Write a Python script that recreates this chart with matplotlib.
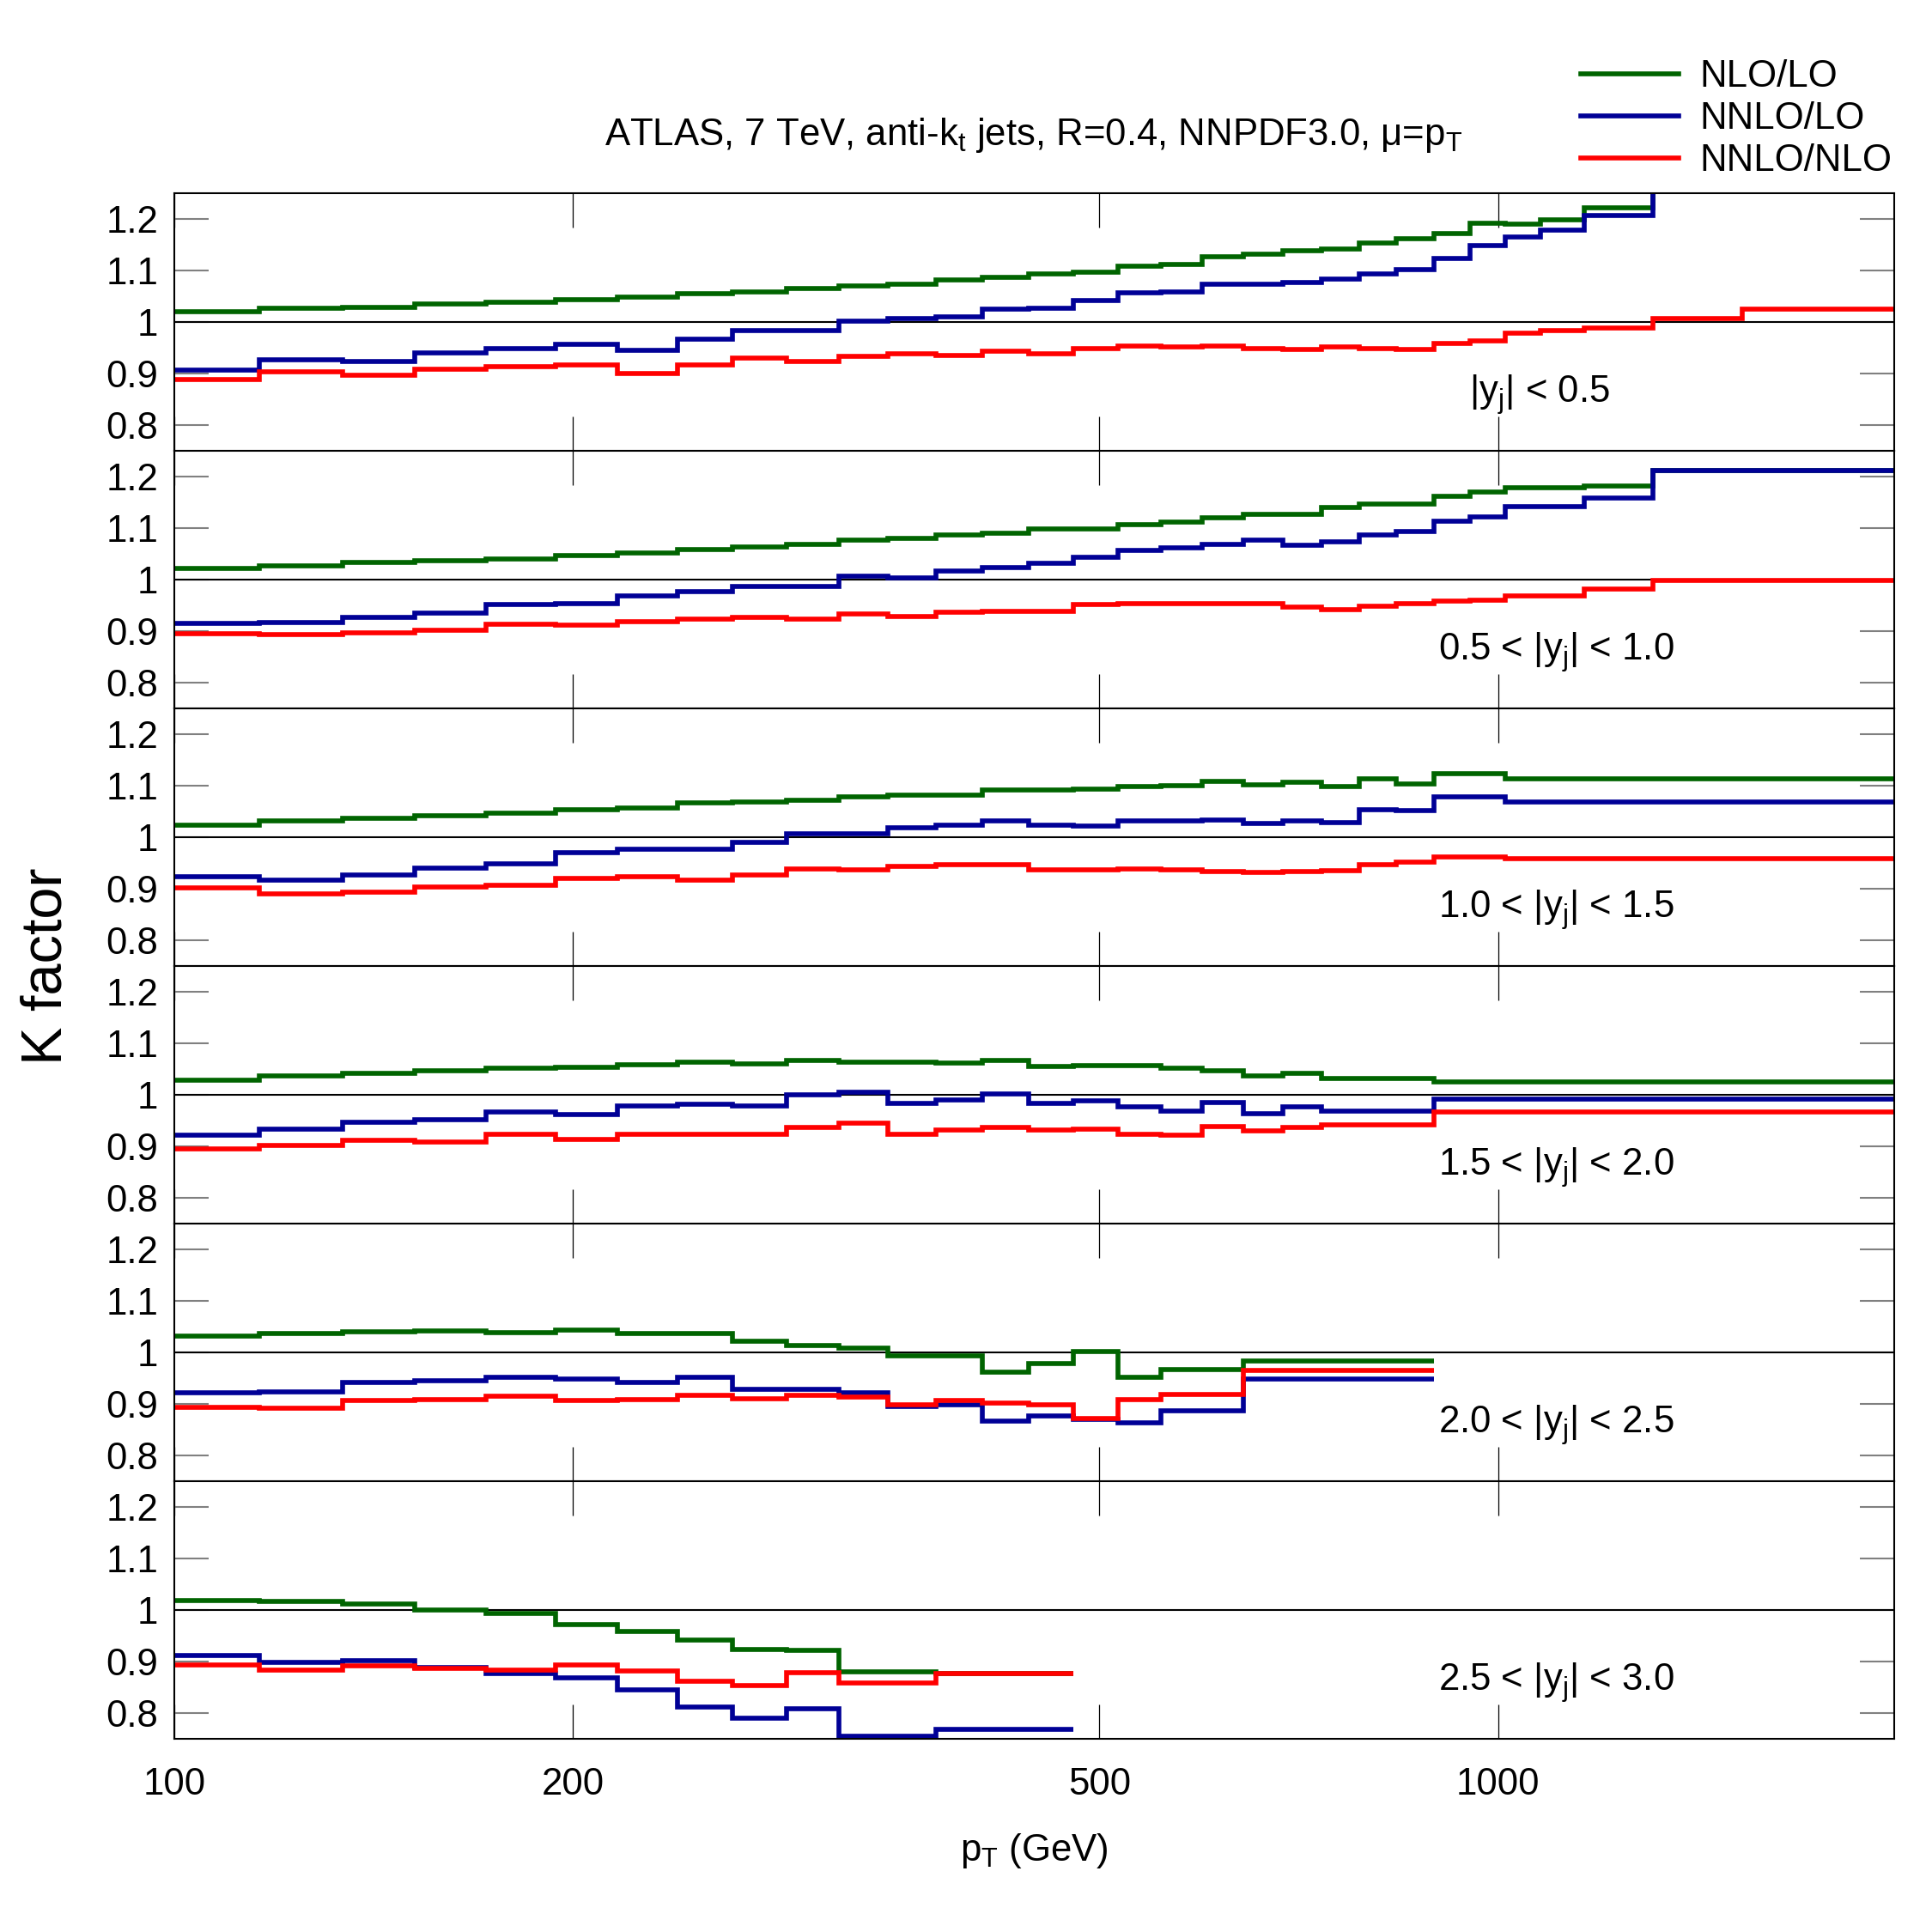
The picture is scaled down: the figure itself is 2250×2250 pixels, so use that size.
import matplotlib
matplotlib.use("Agg")
import matplotlib.pyplot as plt
from matplotlib.ticker import FixedLocator, NullLocator, FixedFormatter
from matplotlib.lines import Line2D

plt.rcParams['font.family'] = ['Liberation Sans', 'DejaVu Sans']
plt.rcParams['mathtext.fontset'] = 'custom'
plt.rcParams['mathtext.rm'] = 'Liberation Sans'
plt.rcParams['mathtext.it'] = 'Liberation Sans'

# pT bin edges (GeV)
edges = [100, 116, 134, 152, 172, 194, 216, 240, 264, 290, 318, 346, 376, 408,
         442, 478, 516, 556, 598, 642, 688, 736, 786, 838, 894, 952, 1012, 1076,
         1162, 1310, 1530, 1992]

labels = ['$|$y$_{\\rm j}|$ < 0.5', '0.5 < $|$y$_{\\rm j}|$ < 1.0',
          '1.0 < $|$y$_{\\rm j}|$ < 1.5', '1.5 < $|$y$_{\\rm j}|$ < 2.0',
          '2.0 < $|$y$_{\\rm j}|$ < 2.5', '2.5 < $|$y$_{\\rm j}|$ < 3.0']

# |y| < 0.5
nlo_lo_1 = [1.020, 1.027, 1.029, 1.035, 1.039, 1.043, 1.049, 1.055, 1.058, 1.065,
            1.070, 1.073, 1.081, 1.087, 1.094, 1.097, 1.108, 1.112, 1.126, 1.131,
            1.138, 1.141, 1.153, 1.162, 1.172, 1.191, 1.190, 1.199, 1.222, 1.30, 1.30]
nnlo_lo_1 = [0.906, 0.927, 0.924, 0.940, 0.948, 0.957, 0.945, 0.966, 0.983, 0.984,
             1.001, 1.007, 1.010, 1.025, 1.026, 1.041, 1.056, 1.058, 1.073, 1.074,
             1.076, 1.083, 1.093, 1.101, 1.123, 1.148, 1.165, 1.178, 1.207, 1.30, 1.30]
nnlo_nlo_1 = [0.888, 0.903, 0.897, 0.908, 0.913, 0.917, 0.900, 0.916, 0.930, 0.924,
              0.934, 0.938, 0.935, 0.943, 0.938, 0.949, 0.954, 0.952, 0.953, 0.948,
              0.946, 0.951, 0.949, 0.947, 0.959, 0.964, 0.979, 0.983, 0.988, 1.007, 1.025]

# 0.5 < |y| < 1.0
nlo_lo_2 = [1.022, 1.026, 1.033, 1.036, 1.040, 1.047, 1.052, 1.058, 1.064, 1.068,
            1.076, 1.080, 1.086, 1.090, 1.099, 1.098, 1.106, 1.112, 1.120, 1.126,
            1.126, 1.140, 1.147, 1.147, 1.162, 1.170, 1.178, 1.178, 1.182, 1.212, 1.212]
nnlo_lo_2 = [0.915, 0.917, 0.926, 0.935, 0.951, 0.954, 0.968, 0.977, 0.987, 0.987,
             1.006, 1.003, 1.016, 1.023, 1.032, 1.044, 1.056, 1.062, 1.068, 1.076,
             1.066, 1.074, 1.087, 1.094, 1.113, 1.122, 1.142, 1.142, 1.158, 1.212, 1.212]
nnlo_nlo_2 = [0.895, 0.893, 0.897, 0.902, 0.914, 0.911, 0.919, 0.924, 0.927, 0.924,
              0.934, 0.928, 0.937, 0.939, 0.939, 0.951, 0.954, 0.954, 0.953, 0.954,
              0.947, 0.942, 0.948, 0.954, 0.958, 0.960, 0.969, 0.969, 0.981, 0.999, 0.999]

# 1.0 < |y| < 1.5
nlo_lo_3 = [1.024, 1.031, 1.036, 1.042, 1.047, 1.054, 1.056, 1.066, 1.068, 1.072,
            1.078, 1.082, 1.082, 1.091, 1.092, 1.093, 1.098, 1.100, 1.108, 1.102,
            1.106, 1.099, 1.113, 1.103, 1.123, 1.123, 1.114, 1.114, 1.114, 1.114, 1.114]
nnlo_lo_3 = [0.924, 0.917, 0.926, 0.940, 0.948, 0.970, 0.976, 0.977, 0.990, 1.006,
             1.007, 1.019, 1.023, 1.032, 1.023, 1.022, 1.032, 1.032, 1.034, 1.027,
             1.032, 1.028, 1.053, 1.051, 1.079, 1.079, 1.068, 1.068, 1.068, 1.068, 1.068]
nnlo_nlo_3 = [0.902, 0.890, 0.893, 0.903, 0.906, 0.920, 0.923, 0.917, 0.927, 0.939,
              0.937, 0.943, 0.946, 0.946, 0.937, 0.937, 0.939, 0.937, 0.933, 0.932,
              0.933, 0.935, 0.946, 0.952, 0.962, 0.962, 0.958, 0.958, 0.958, 0.958, 0.958]

# 1.5 < |y| < 2.0
nlo_lo_4 = [1.028, 1.036, 1.041, 1.047, 1.051, 1.054, 1.058, 1.063, 1.060, 1.067,
            1.064, 1.064, 1.062, 1.067, 1.055, 1.057, 1.056, 1.051, 1.046, 1.037,
            1.041, 1.031, 1.031, 1.031, 1.025, 1.025, 1.025, 1.025, 1.025, 1.025, 1.025]
nnlo_lo_4 = [0.921, 0.933, 0.947, 0.951, 0.966, 0.962, 0.978, 0.982, 0.978, 1.000,
             1.005, 0.984, 0.990, 1.001, 0.983, 0.988, 0.977, 0.968, 0.985, 0.963,
             0.976, 0.969, 0.969, 0.969, 0.991, 0.991, 0.991, 0.991, 0.991, 0.991, 0.991]
nnlo_nlo_4 = [0.895, 0.901, 0.911, 0.908, 0.923, 0.913, 0.923, 0.924, 0.923, 0.937,
              0.945, 0.923, 0.932, 0.937, 0.932, 0.933, 0.924, 0.922, 0.938, 0.930,
              0.937, 0.941, 0.941, 0.941, 0.966, 0.966, 0.966, 0.966, 0.966, 0.966, 0.966]

# 2.0 < |y| < 2.5 (up to 894 GeV)
nlo_lo_5 = [1.032, 1.037, 1.040, 1.041, 1.039, 1.044, 1.037, 1.037, 1.022, 1.014,
            1.008, 0.994, 0.993, 0.962, 0.979, 1.001, 0.951, 0.966, 0.966, 0.983,
            0.983, 0.983, 0.983, 0.983]
nnlo_lo_5 = [0.922, 0.924, 0.942, 0.945, 0.952, 0.948, 0.942, 0.951, 0.929, 0.929,
             0.922, 0.895, 0.898, 0.867, 0.877, 0.870, 0.863, 0.887, 0.887, 0.948,
             0.948, 0.948, 0.948, 0.948]
nnlo_nlo_5 = [0.893, 0.892, 0.906, 0.908, 0.915, 0.907, 0.908, 0.917, 0.910, 0.916,
              0.914, 0.899, 0.906, 0.902, 0.898, 0.872, 0.908, 0.919, 0.919, 0.965,
              0.965, 0.965, 0.965, 0.965]

# 2.5 < |y| < 3.0 (up to 478 GeV)
nlo_lo_6 = [1.019, 1.017, 1.012, 1.000, 0.993, 0.972, 0.958, 0.941, 0.924, 0.921,
            0.880, 0.880, 0.876, 0.876, 0.876]
nnlo_lo_6 = [0.911, 0.898, 0.902, 0.888, 0.877, 0.869, 0.845, 0.811, 0.790, 0.808,
             0.755, 0.755, 0.768, 0.768, 0.768]
nnlo_nlo_6 = [0.893, 0.883, 0.891, 0.887, 0.884, 0.894, 0.881, 0.861, 0.853, 0.878,
              0.858, 0.858, 0.877, 0.877, 0.877]

panels = [
    (nlo_lo_1, nnlo_lo_1, nnlo_nlo_1),
    (nlo_lo_2, nnlo_lo_2, nnlo_nlo_2),
    (nlo_lo_3, nnlo_lo_3, nnlo_nlo_3),
    (nlo_lo_4, nnlo_lo_4, nnlo_nlo_4),
    (nlo_lo_5, nnlo_lo_5, nnlo_nlo_5),
    (nlo_lo_6, nnlo_lo_6, nnlo_nlo_6),
]
colors = ['#006400', '#000096', '#ff0000']
names = ['NLO/LO', 'NNLO/LO', 'NNLO/NLO']
label_x = [0.7527, 0.7348, 0.7348, 0.7348, 0.7348, 0.7348]

fig = plt.figure(figsize=(15, 15), dpi=150)
fig.subplots_adjust(left=0.0902, right=0.9804, bottom=0.1, top=0.9, hspace=0)
axes = fig.subplots(6, 1, sharex=True)

for i, ax in enumerate(axes):
    ax.axhline(1.0, color='black', lw=1.0, zorder=3)
    for vals, c in zip(panels[i], colors):
        ax.stairs(vals, edges[:len(vals) + 1], baseline=None, color=c, lw=2.7, zorder=4)
    ax.set_xscale('log')
    ax.set_xlim(100, 1992)
    ax.set_ylim(0.75, 1.25)
    ax.yaxis.set_major_locator(FixedLocator([0.8, 0.9, 1.0, 1.1, 1.2]))
    ax.yaxis.set_major_formatter(FixedFormatter(['0.8', '0.9', '1', '1.1', '1.2']))
    ax.xaxis.set_major_locator(FixedLocator([100, 200, 500, 1000]))
    ax.xaxis.set_minor_locator(NullLocator())
    ax.xaxis.set_major_formatter(FixedFormatter(['100', '200', '500', '1000']))
    ax.tick_params(axis='y', which='major', direction='in', left=True, right=True,
                   length=19, width=1.0, color='#808080', labelsize=21, pad=9)
    ax.tick_params(axis='x', which='major', direction='in', top=True, bottom=True,
                   length=19, width=0.6, color='black', labelsize=21, pad=16)
    for s in ax.spines.values():
        s.set_linewidth(1.0)
        s.set_zorder(5)
    ax.text(label_x[i], 0.187, labels[i], transform=ax.transAxes, fontsize=21,
            ha='left', va='baseline')

fig.text(0.5350, 0.9247, 'ATLAS, 7 TeV, anti-k$_{\\rm t}$ jets, R=0.4, NNPDF3.0, \u03bc=p$_{\\rm T}$',
         ha='center', va='baseline', fontsize=21)
fig.text(0.5355, 0.037, 'p$_{\\rm T}$ (GeV)', ha='center', va='baseline', fontsize=21)
fig.text(0.024, 0.5, 'K factor', rotation=90, ha='center', va='center', fontsize=32)

handles = [Line2D([], [], color=c, lw=2.7) for c in colors]
fig.legend(handles, names, loc='upper right', bbox_to_anchor=(0.987, 0.977),
           frameon=False, fontsize=21, handlelength=2.6, handletextpad=0.55,
           labelspacing=0.18, borderaxespad=0)

fig.savefig('out.png', dpi=150)
